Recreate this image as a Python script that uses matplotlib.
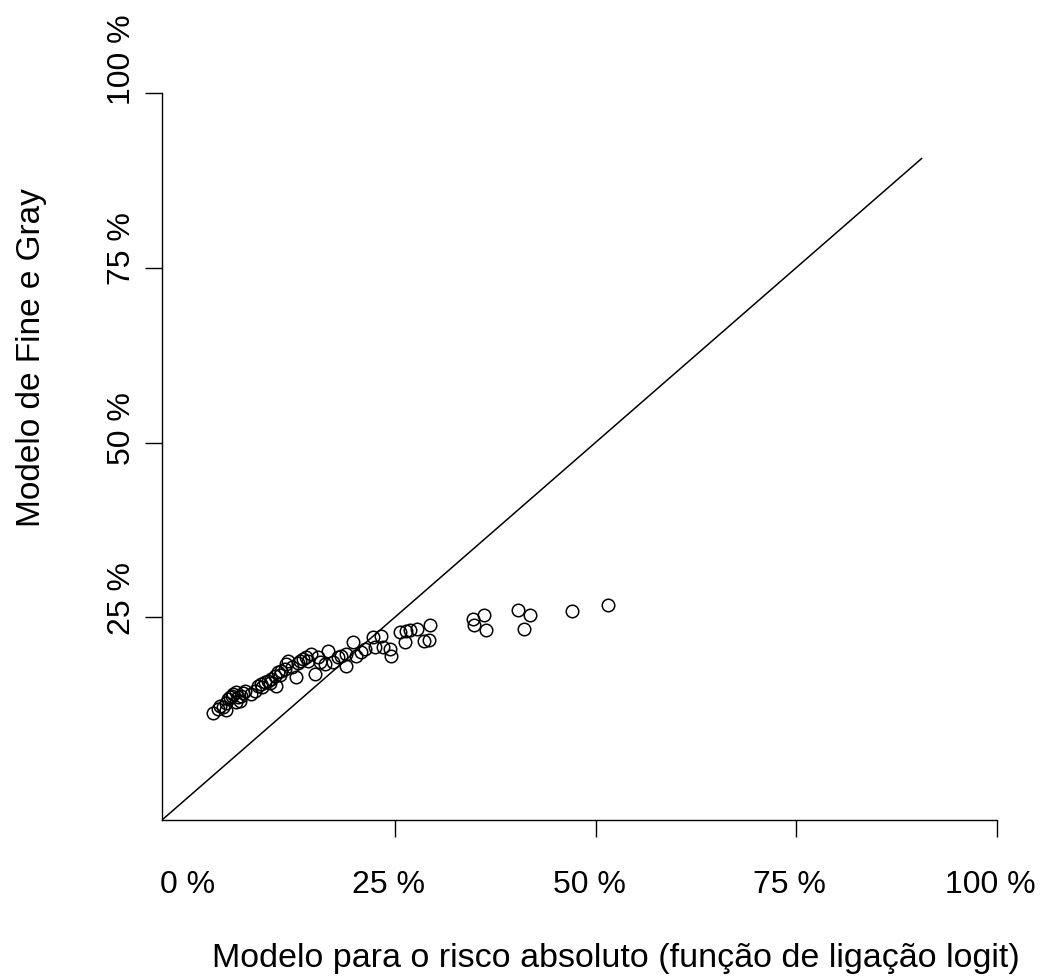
import matplotlib
matplotlib.use("Agg")
import matplotlib.pyplot as plt
import matplotlib.transforms as mtransforms

plt.rcParams['font.family'] = ['Liberation Sans', 'DejaVu Sans']

# Predicted absolute risk (%) from the logit-link model vs. Fine & Gray model
risco_logit = [2.34, 3.18, 3.59, 2.93, 3.93, 4.42, 4.84, 5.26, 5.46, 5.80,
               4.17, 4.67, 6.04, 5.67, 7.13, 7.54, 7.95, 8.37, 8.79, 9.20,
               9.62, 10.03, 10.44, 10.87, 11.28, 11.49, 10.24, 12.74, 11.69, 13.15,
               13.56, 13.98, 14.61, 15.02, 15.64, 16.26, 16.68, 17.30, 17.92, 18.35,
               18.97, 18.97, 19.79, 20.21, 20.84, 21.25, 22.28, 22.49, 23.33, 23.53,
               24.36, 24.58, 25.61, 26.45, 26.86, 26.23, 27.77, 28.60, 29.26, 29.44,
               34.75, 36.12, 34.83, 36.37, 40.32, 41.85, 41.06, 47.08, 51.53,
               6.29, 8.41, 9.41, 10.66, 12.15, 12.90, 14.15, 15.39, 3.93, 5.17]
fine_gray = [11.30, 12.35, 12.12, 11.87, 12.73, 13.55, 14.02, 14.26, 13.55, 13.73,
             13.30, 13.73, 14.16, 13.06, 14.02, 14.49, 15.21, 15.45, 15.69, 15.92,
             16.17, 16.64, 17.12, 17.35, 17.60, 18.31, 15.21, 16.41, 18.78, 18.78,
             19.03, 19.27, 19.74, 16.88, 18.56, 18.31, 20.21, 18.56, 19.27, 19.50,
             18.07, 19.74, 21.42, 19.50, 19.99, 20.46, 22.13, 20.70, 22.36, 20.70,
             20.46, 19.50, 22.85, 23.08, 23.22, 21.50, 23.32, 21.65, 21.75, 23.89,
             24.75, 25.36, 23.89, 23.22, 26.08, 25.32, 23.28, 25.85, 26.71,
             14.45, 15.02, 15.59, 16.74, 17.88, 18.45, 18.74, 19.31, 11.73, 12.88]

x_ticks = [0.0, 0.25, 0.50, 0.75, 1.0]
x_labels = ["0 %", "25 %", "50 %", "75 %", "100 %"]
y_ticks = [0.25, 0.50, 0.75, 1.0]
y_labels = ["25 %", "50 %", "75 %", "100 %"]
ref_line = [-0.04, 0.907]

W, H = 1041, 979
fig = plt.figure(figsize=(W / 100, H / 100), dpi=100)
ax = fig.add_axes([162 / W, (H - 821) / H, (1029 - 162) / W, (821 - 66) / H])
ax.set_xlim(-0.04, 1.04)
ax.set_ylim(-0.04, 1.04)

ax.plot(ref_line, ref_line, color='black', lw=1.1, solid_capstyle='butt')
ax.plot([v / 100 for v in risco_logit], [v / 100 for v in fine_gray],
        linestyle='none', marker='o', markersize=9.0, markerfacecolor='none',
        markeredgecolor='black', markeredgewidth=1.1)

for side in ('top', 'right'):
    ax.spines[side].set_visible(False)
ax.spines['bottom'].set_bounds(-0.04, 1.0)
ax.spines['left'].set_bounds(-0.04, 1.0)
for side in ('bottom', 'left'):
    ax.spines[side].set_linewidth(1.0)

ax.set_xticks(x_ticks)
ax.set_xticklabels(x_labels, fontsize=23)
ax.set_yticks(y_ticks)
ax.set_yticklabels(y_labels, fontsize=23, rotation=90, va='center')
ax.tick_params(axis='both', direction='out', length=12.5, width=1.0, color='black')
ax.tick_params(axis='x', pad=23)
ax.tick_params(axis='y', pad=5.5)
ax.xaxis.get_major_ticks()[0].tick1line.set_visible(False)

# R-style label placement: nudge labels off their tick centres
dx = mtransforms.ScaledTranslation(-6.5 / 100, 0, fig.dpi_scale_trans)
for lab in ax.get_xticklabels():
    lab.set_transform(lab.get_transform() + dx)
y_nudge_px = [20, 15, 20, 34]
for lab, n in zip(ax.get_yticklabels(), y_nudge_px):
    dy = mtransforms.ScaledTranslation(0, n / 100, fig.dpi_scale_trans)
    lab.set_transform(lab.get_transform() + dy)

fig.text(616 / W, (H - 959) / H, "Modelo para o risco absoluto (função de ligação logit)",
         ha='center', va='center', fontsize=24.5)
fig.text(32 / W, (H - 358) / H, "Modelo de Fine e Gray",
         ha='center', va='center', rotation=90, fontsize=24)

fig.savefig("out.png", dpi=100)
